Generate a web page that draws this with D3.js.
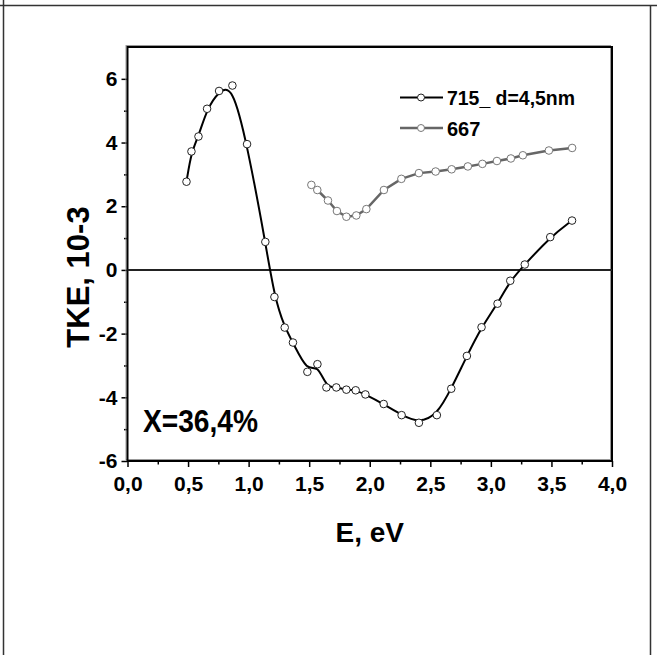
<!DOCTYPE html>
<html>
<head>
<meta charset="utf-8">
<script src="https://cdn.jsdelivr.net/npm/d3@7"></script>
<style>
  html, body { margin: 0; padding: 0; background: #fff; }
  svg { display: block; }
  text { font-family: Arial, "Liberation Sans", sans-serif; font-weight: bold; fill: #000; }
</style>
</head>
<body>
<script>
// Sample 715 (d = 4.5 nm): photon energy (eV) and TKE (x10^-3)
const energy715 = [0.487, 0.528, 0.586, 0.657, 0.756, 0.866, 0.987, 1.138, 1.213, 1.298,
                   1.366, 1.485, 1.568, 1.642, 1.724, 1.807, 1.884, 1.964, 2.115, 2.263,
                   2.406, 2.554, 2.673, 2.802, 2.923, 3.055, 3.160, 3.280, 3.490, 3.670];
const tke715 = [2.77, 3.72, 4.19, 5.06, 5.62, 5.79, 3.95, 0.88, -0.85, -1.81,
                -2.28, -3.20, -2.96, -3.69, -3.69, -3.76, -3.78, -3.91, -4.21, -4.56,
                -4.80, -4.56, -3.73, -2.70, -1.80, -1.06, -0.34, 0.17, 1.03, 1.55];

// Sample 667
const energy667 = [1.518, 1.567, 1.655, 1.729, 1.807, 1.889, 1.972, 2.117, 2.261, 2.406,
                   2.544, 2.676, 2.810, 2.930, 3.050, 3.165, 3.264, 3.479, 3.671];
const tke667 = [2.67, 2.51, 2.18, 1.85, 1.67, 1.71, 1.91, 2.51, 2.86, 3.04,
                3.09, 3.16, 3.25, 3.33, 3.42, 3.50, 3.60, 3.75, 3.83];

const seriesNames = ["715_ d=4,5nm", "667"];
const xTicks = [0, 0.5, 1, 1.5, 2, 2.5, 3, 3.5, 4];
const yTicks = [-6, -4, -2, 0, 2, 4, 6];
const xMinor = [0.25, 0.75, 1.25, 1.75, 2.25, 2.75, 3.25, 3.75];
const yMinor = [-5, -3, -1, 1, 3, 5];
const xTitle = "E, eV";
const yTitle = "TKE, 10";
const yTitleExp = "-3";
const note = "X=36,4%";

const W = 657, H = 655;
const plot = { left: 127.5, right: 612, top: 47, bottom: 461 };

const svg = d3.select("body").append("svg").attr("width", W).attr("height", H);

// outer frame lines
svg.append("line").attr("x1", 0).attr("x2", W).attr("y1", 5.5).attr("y2", 5.5)
  .attr("stroke", "#333").attr("stroke-width", 1.5);
svg.append("line").attr("x1", 3.5).attr("x2", 3.5).attr("y1", 0).attr("y2", H)
  .attr("stroke", "#333").attr("stroke-width", 1.5);
svg.append("line").attr("x1", 650.5).attr("x2", 650.5).attr("y1", 5).attr("y2", H)
  .attr("stroke", "#333").attr("stroke-width", 1.5);

const x = d3.scaleLinear().domain([0, 4]).range([plot.left, plot.right]);
const y = d3.scaleLinear().domain([-6, 7]).range([plot.bottom, plot.top]);

const fmtX = d => d3.format(".1f")(d).replace(".", ",");
const fmtY = d => (d < 0 ? "-" + Math.abs(d) : String(d));

function styleAxis(g) {
  g.selectAll(".domain").remove();
  g.selectAll("line").attr("stroke", "#000").attr("stroke-width", 1.5);
  g.selectAll("text").attr("font-size", 21).attr("font-weight", "bold")
    .attr("font-family", "Arial, 'Liberation Sans', sans-serif").attr("fill", "#000");
}

// x axis: major ticks with labels, minor ticks without
const gx = svg.append("g").attr("transform", `translate(0,${plot.bottom})`)
  .call(d3.axisBottom(x).tickValues(xTicks).tickSize(6).tickPadding(9).tickFormat(fmtX));
styleAxis(gx);
const gxm = svg.append("g").attr("transform", `translate(0,${plot.bottom})`)
  .call(d3.axisBottom(x).tickValues(xMinor).tickSize(3.5).tickFormat(() => ""));
styleAxis(gxm);

// y axis: major ticks with labels, minor ticks without
const gy = svg.append("g").attr("transform", `translate(${plot.left},0)`)
  .call(d3.axisLeft(y).tickValues(yTicks).tickSize(6).tickPadding(4).tickFormat(fmtY));
styleAxis(gy);
const gym = svg.append("g").attr("transform", `translate(${plot.left},0)`)
  .call(d3.axisLeft(y).tickValues(yMinor).tickSize(3.5).tickFormat(() => ""));
styleAxis(gym);

// plot frame with a faint offset shadow
svg.append("rect").attr("x", plot.left - 1.5).attr("y", plot.top - 1.5)
  .attr("width", plot.right - plot.left).attr("height", plot.bottom - plot.top)
  .attr("fill", "none").attr("stroke", "#999").attr("stroke-width", 1);
svg.append("rect").attr("x", plot.left).attr("y", plot.top)
  .attr("width", plot.right - plot.left).attr("height", plot.bottom - plot.top)
  .attr("fill", "none").attr("stroke", "#000").attr("stroke-width", 2);

// zero reference line
svg.append("line").attr("x1", plot.left).attr("x2", plot.right)
  .attr("y1", y(0)).attr("y2", y(0)).attr("stroke", "#222").attr("stroke-width", 2);

const data715 = energy715.map((e, i) => ({ e, v: tke715[i] }));
const data667 = energy667.map((e, i) => ({ e, v: tke667[i] }));

// 667: straight segments in grey
svg.append("path").datum(data667)
  .attr("d", d3.line().x(d => x(d.e)).y(d => y(d.v)).curve(d3.curveLinear))
  .attr("fill", "none").attr("stroke", "#666").attr("stroke-width", 2.5);

// 715: smoothed curve in black
svg.append("path").datum(data715)
  .attr("d", d3.line().x(d => x(d.e)).y(d => y(d.v)).curve(d3.curveBasis))
  .attr("fill", "none").attr("stroke", "#000").attr("stroke-width", 2);

svg.append("g").selectAll("circle").data(data667).join("circle")
  .attr("cx", d => x(d.e)).attr("cy", d => y(d.v)).attr("r", 3.8)
  .attr("fill", "#fff").attr("stroke", "#777").attr("stroke-width", 1);

svg.append("g").selectAll("circle").data(data715).join("circle")
  .attr("cx", d => x(d.e)).attr("cy", d => y(d.v)).attr("r", 3.8)
  .attr("fill", "#fff").attr("stroke", "#222").attr("stroke-width", 1);

// legend
const legendColors = ["#000", "#666"];
const legendStroke = ["#222", "#777"];
const lg = svg.append("g");
seriesNames.forEach((name, i) => {
  const ly = 97.5 + i * 30.5;
  lg.append("line").attr("x1", 400).attr("x2", 443).attr("y1", ly).attr("y2", ly)
    .attr("stroke", legendColors[i]).attr("stroke-width", i === 0 ? 2 : 2.5);
  lg.append("circle").attr("cx", 421).attr("cy", ly).attr("r", 3.5)
    .attr("fill", "#fff").attr("stroke", legendStroke[i]).attr("stroke-width", 1);
  const t = lg.append("text").attr("x", 447).attr("y", ly + 7.5)
    .attr("font-size", 20).text(name);
  if (i === 0) t.attr("textLength", 128).attr("lengthAdjust", "spacingAndGlyphs");
});

// annotation
svg.append("text").attr("x", 143).attr("y", 432).attr("font-size", 32)
  .attr("textLength", 115).attr("lengthAdjust", "spacingAndGlyphs").text(note);

// axis titles
svg.append("text").attr("x", (plot.left + plot.right) / 2).attr("y", 541.5)
  .attr("text-anchor", "middle").attr("font-size", 28).text(xTitle);

const yt = svg.append("text").attr("transform", "translate(89,277) rotate(-90)")
  .attr("text-anchor", "middle").attr("font-size", 31);
yt.append("tspan").text(yTitle);
yt.append("tspan").text(yTitleExp);
</script>
</body>
</html>
